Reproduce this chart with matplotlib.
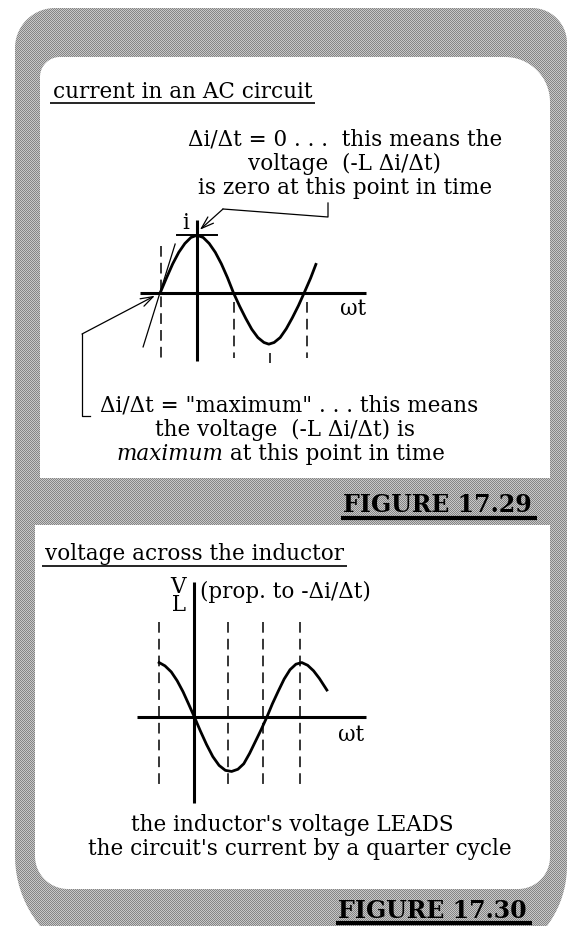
import numpy as np
import matplotlib
matplotlib.use("Agg")
import matplotlib.pyplot as plt
from matplotlib.path import Path
from matplotlib.patches import PathPatch

plt.rcParams['font.family'] = ['DejaVu Serif']

# current in the circuit, phase in degrees vs amplitude (fig 17.29)
i_phase = [-91, -75, -60, -45, -30, -15, 0, 15, 30, 45, 60, 75, 90,
           105, 120, 135, 150, 165, 177, 190, 205, 220, 235, 250, 264, 280, 293]
i_value = [0, 0.28, 0.53, 0.74, 0.90, 1.01, 1.05, 1.01, 0.90, 0.74, 0.53, 0.28, 0,
           -0.24, -0.46, -0.66, -0.81, -0.90, -0.93, -0.90, -0.81, -0.65, -0.45, -0.23, 0, 0.27, 0.52]

# inductor voltage, phase in degrees vs amplitude (fig 17.30)
v_phase = [-89, -74, -58, -43, -28, -14, 1, 16, 32, 48, 64, 80, 96, 112, 127, 142,
           157, 172, 186, 200, 215, 230, 245, 260, 275, 290, 305, 320, 339]
v_value = [0.99, 0.93, 0.82, 0.66, 0.46, 0.24, 0, -0.25, -0.50, -0.72, -0.88, -0.97, -0.99,
           -0.95, -0.85, -0.66, -0.44, -0.22, 0, 0.24, 0.47, 0.69, 0.86, 0.96, 0.99, 0.94,
           0.84, 0.70, 0.49]

# quarter-cycle marker lines: phase, top, bottom
i_marks = [(-90, 0.85, -1.18), (90, -0.16, -1.18), (180, -1.09, -1.27), (270, -0.16, -1.18)]
v_marks = [(-89, 1.73, -1.33), (87, 1.73, -1.33), (176, 1.73, -1.33), (270, 1.73, -1.33)]

# tangent through the zero crossing
tangent_phase = [-133, -54]
tangent_value = [-0.98, 0.89]

W, H = 569, 926
BODY = 15.5

fig = plt.figure(figsize=(W / 100, H / 100), dpi=100)
bg = fig.add_axes([0, 0, 1, 1])
bg.set_xlim(0, W)
bg.set_ylim(H, 0)
bg.axis('off')


def panel_path(x0, y0, x1, y1, r_tl, r_tr, r_br, r_bl, n=24):
    def arc(cx, cy, r, a0, a1):
        t = np.radians(np.linspace(a0, a1, n))
        return np.column_stack([cx + r * np.cos(t), cy + r * np.sin(t)])
    pts = np.vstack([
        arc(x0 + r_tl, y0 + r_tl, r_tl, 180, 270),
        arc(x1 - r_tr, y0 + r_tr, r_tr, 270, 360),
        arc(x1 - r_br, y1 - r_br, r_br, 0, 90),
        arc(x0 + r_bl, y1 - r_bl, r_bl, 90, 180),
    ])
    return Path(np.vstack([pts, pts[:1]]), closed=True)


# dithered grey frame
outer = PathPatch(panel_path(15, 8, 567, 966, 40, 35, 100, 110),
                  transform=bg.transData, facecolor='none', edgecolor='none')
bg.add_patch(outer)
yy, xx = np.mgrid[0:H, 0:W]
checker = np.where((xx + yy) % 2 == 0, 0.52, 0.78)
im = bg.imshow(checker, cmap='gray', vmin=0, vmax=1, extent=(0, W, H, 0),
               interpolation='nearest', aspect='auto', zorder=0)
im.set_clip_path(outer)
bg.set_xlim(0, W)
bg.set_ylim(H, 0)

# white panels
bg.add_patch(PathPatch(panel_path(40, 57, 550, 478, 20, 45, 0, 0),
                       facecolor='white', edgecolor='none', zorder=1))
bg.add_patch(PathPatch(panel_path(35, 525, 550, 889, 0, 0, 32, 33),
                       facecolor='white', edgecolor='none', zorder=1))

renderer = fig.canvas.get_renderer()


def underline(t, y, pad_l=3, pad_r=3, lw=1.2):
    bb = t.get_window_extent(renderer)
    inv = bg.transData.inverted()
    (x0, _), (x1, _) = inv.transform([[bb.x0, bb.y0], [bb.x1, bb.y1]])
    bg.plot([x0 - pad_l, x1 + pad_r], [y, y], color='black', lw=lw,
            solid_capstyle='butt', zorder=3)


def graph_axes(left, top, right, bottom, xlim, ylim):
    ax = fig.add_axes([left / W, 1 - bottom / H, (right - left) / W, (bottom - top) / H])
    ax.set_xlim(xlim)
    ax.set_ylim(ylim)
    ax.axis('off')
    return ax


def to_bg(ax, x, y):
    disp = ax.transData.transform((x, y))
    return bg.transData.inverted().transform(disp)


# ---- FIGURE 17.29: current in an AC circuit ----
t = bg.text(53, 98, "current in an AC circuit", fontsize=BODY, va='baseline', zorder=3)
underline(t, 103)

for y, s in [(146, "\u0394i/\u0394t = 0 . . .  this means the"),
             (170, "voltage  (-L \u0394i/\u0394t)"),
             (194, "is zero at this point in time")]:
    bg.text(345, y, s, fontsize=BODY, ha='center', va='baseline', zorder=3)

bg.text(100, 411, "\u0394i/\u0394t = \"maximum\" . . . this means", fontsize=BODY,
        va='baseline', zorder=3)
bg.text(155, 436, "the voltage  (-L \u0394i/\u0394t) is", fontsize=BODY, va='baseline', zorder=3)
t_it = bg.text(116, 460, "maximum", fontsize=BODY, style='italic', va='baseline', zorder=3)
bb = t_it.get_window_extent(renderer)
x_end = bg.transData.inverted().transform((bb.x1, bb.y0))[0]
bg.text(x_end, 460, " at this point in time", fontsize=BODY, va='baseline', zorder=3)

t = bg.text(532, 512, "FIGURE 17.29", fontsize=17, fontweight='bold', ha='right',
            va='baseline', zorder=3)
underline(t, 518, pad_l=2, pad_r=5, lw=3)

ax_i = graph_axes(136.2, 216, 375.5, 370, (-150, 440), (-1.4, 1.4))
ax_i.plot([-140, 416], [0, 0], color='black', lw=2.2, solid_capstyle='butt')
ax_i.plot([0, 0], [1.33, -1.24], color='black', lw=2.2, solid_capstyle='butt')
for ph, top, bot in i_marks:
    ax_i.plot([ph, ph], [top, bot], color='black', lw=1.1, ls=(0, (7, 4)))
ax_i.plot(i_phase, i_value, color='black', lw=2.0, solid_joinstyle='round')
ax_i.plot([-49, 49], [max(i_value)] * 2, color='black', lw=1.4)
ax_i.plot(tangent_phase, tangent_value, color='black', lw=0.9)
ax_i.text(-27, 1.27, "i", fontsize=BODY, ha='center', va='center')
ax_i.text(352, -0.29, "\u03c9t", fontsize=BODY, ha='left', va='center')

arrow = dict(arrowstyle='->,head_length=0.9,head_width=0.3', color='black', lw=0.9,
             shrinkA=0, shrinkB=0)
# arrow to the peak (zero slope)
tip = to_bg(ax_i, 7, 1.15)
bg.plot([328, 328, 223], [203, 217, 209], color='black', lw=0.9, zorder=3)
bg.annotate("", xy=tip, xytext=(223, 209), arrowprops=arrow, zorder=3)
# arrow to the zero crossing (max slope)
tip = to_bg(ax_i, -104, -0.05)
bg.plot([90, 82, 82], [416, 416, 334], color='black', lw=0.9, zorder=3)
bg.annotate("", xy=tip, xytext=(82, 334), arrowprops=arrow, zorder=3)

# ---- FIGURE 17.30: voltage across the inductor ----
t = bg.text(45, 560, "voltage across the inductor", fontsize=BODY, va='baseline', zorder=3)
underline(t, 566)

ax_v = graph_axes(135.2, 574, 374.3, 810.5, (-150, 460), (-1.7, 2.6))
ax_v.plot([-145, 440], [0, 0], color='black', lw=2.2, solid_capstyle='butt')
ax_v.plot([0, 0], [2.45, -1.56], color='black', lw=2.2, solid_capstyle='butt')
for ph, top, bot in v_marks:
    ax_v.plot([ph, ph], [top, bot], color='black', lw=1.1, ls=(0, (7, 4)))
ax_v.plot(v_phase, v_value, color='black', lw=2.0, solid_joinstyle='round')
# V with subscript L, stacked as one label
ax_v.text(-20, 2.2, "V\n L", fontsize=BODY, ha='right', va='center',
          multialignment='right', linespacing=0.72)
ax_v.text(15, 2.27, "(prop. to -\u0394i/\u0394t)", fontsize=BODY, ha='left', va='center')
ax_v.text(367, -0.33, "\u03c9t", fontsize=BODY, ha='left', va='center')

bg.text(292, 831, "the inductor's voltage LEADS", fontsize=BODY, ha='center',
        va='baseline', zorder=3)
bg.text(300, 855, "the circuit's current by a quarter cycle", fontsize=BODY, ha='center',
        va='baseline', zorder=3)

t = bg.text(527, 918, "FIGURE 17.30", fontsize=17, fontweight='bold', ha='right',
            va='baseline', zorder=3)
underline(t, 923, pad_l=2, pad_r=5, lw=3)

fig.savefig("out.png", dpi=100)
